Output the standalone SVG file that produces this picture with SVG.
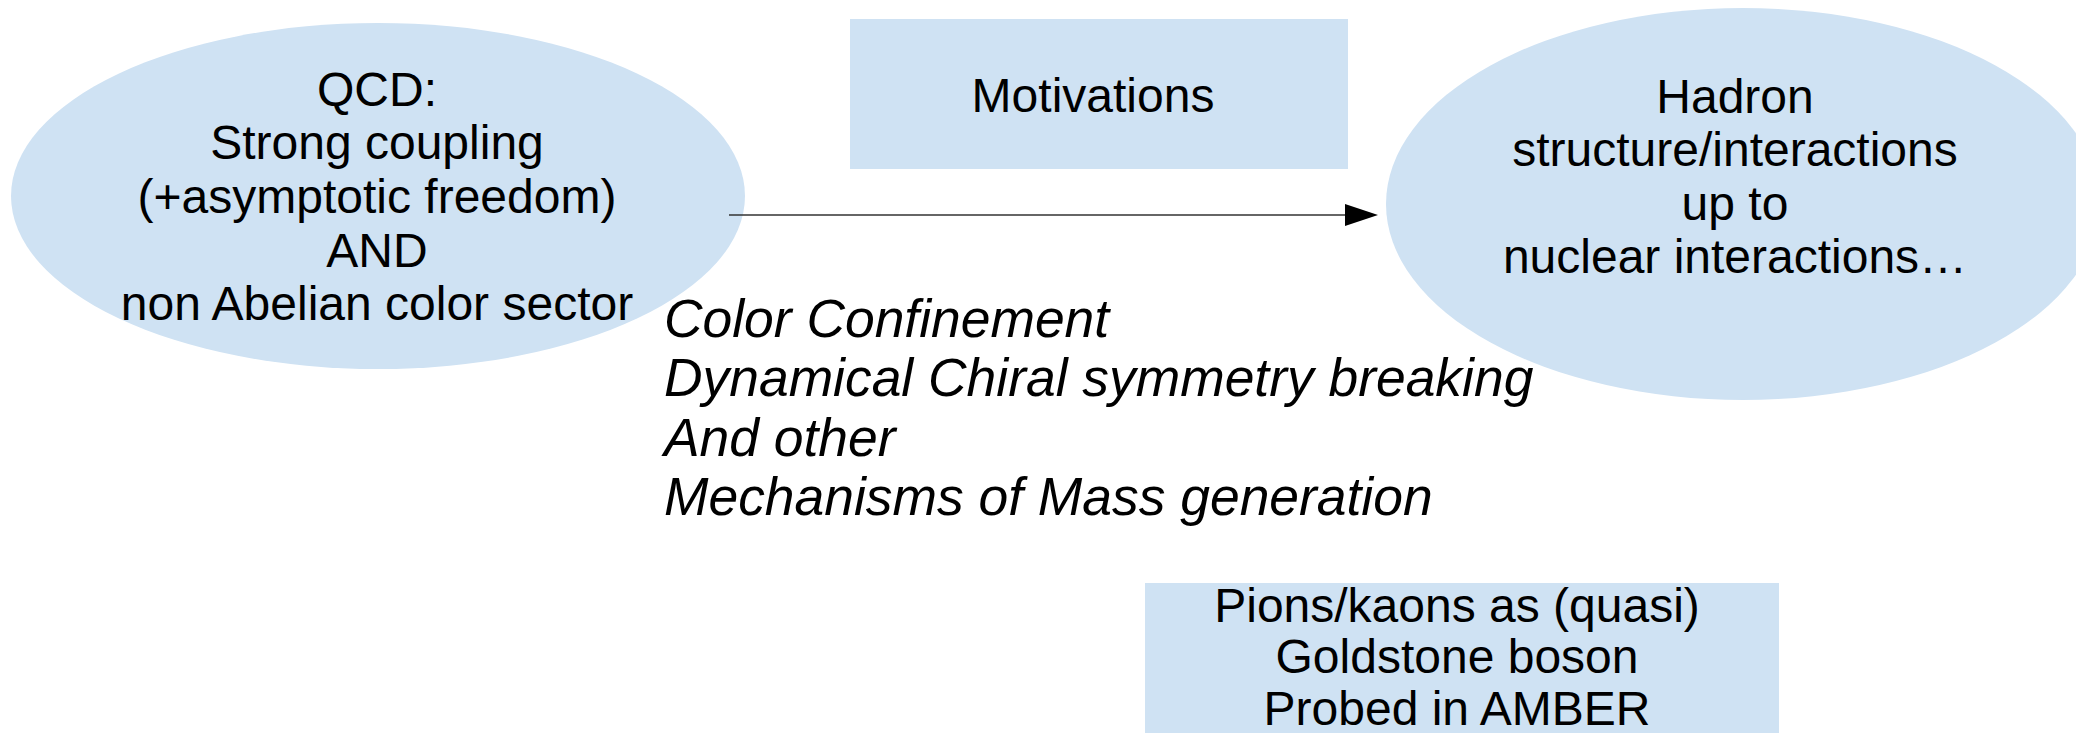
<svg xmlns="http://www.w3.org/2000/svg" width="2076" height="733" viewBox="0 0 2076 733">
<style>
.shape{fill:#cfe2f3;stroke:none}
.t{font-family:"Liberation Sans",Arial,sans-serif;font-size:48px;fill:#000;text-anchor:middle}
.it{font-family:"Liberation Sans",Arial,sans-serif;font-size:53.4px;font-style:italic;fill:#000}
.conn{stroke:#333;stroke-width:1.5;fill:none}
</style>
<rect width="2076" height="733" fill="#fff"/>
<g id="qcd">
<ellipse class="shape" cx="378" cy="196" rx="367" ry="173"/>
<text class="t" x="377" y="106">QCD:</text>
<text class="t" x="377" y="159">Strong coupling</text>
<text class="t" x="377" y="213">(+asymptotic freedom)</text>
<text class="t" x="377" y="267">AND</text>
<text class="t" x="377" y="320">non Abelian color sector</text>
</g>
<g id="motivations">
<rect class="shape" x="850" y="19" width="498" height="150"/>
<text class="t" x="1093" y="112">Motivations</text>
</g>
<g id="hadron">
<ellipse class="shape" cx="1743" cy="204" rx="357" ry="196"/>
<text class="t" x="1735" y="113">Hadron</text>
<text class="t" x="1735" y="166">structure/interactions</text>
<text class="t" x="1735" y="220">up to</text>
<text class="t" x="1735" y="273">nuclear interactions…</text>
</g>
<g id="mechanisms">
<text class="it" x="664" y="337">Color Confinement</text>
<text class="it" x="664" y="396">Dynamical Chiral symmetry breaking</text>
<text class="it" x="664" y="456">And other</text>
<text class="it" x="664" y="515">Mechanisms of Mass generation</text>
</g>
<g id="pions">
<rect class="shape" x="1145" y="583" width="634" height="160"/>
<text class="t" x="1457" y="622">Pions/kaons as (quasi)</text>
<text class="t" x="1457" y="673">Goldstone boson</text>
<text class="t" x="1457" y="725">Probed in AMBER</text>
</g>
<g id="connectors">
<line class="conn" x1="729" y1="215" x2="1346" y2="215"/>
<polygon points="1345,204 1378,215 1345,226" fill="#000"/>
</g>
</svg>
